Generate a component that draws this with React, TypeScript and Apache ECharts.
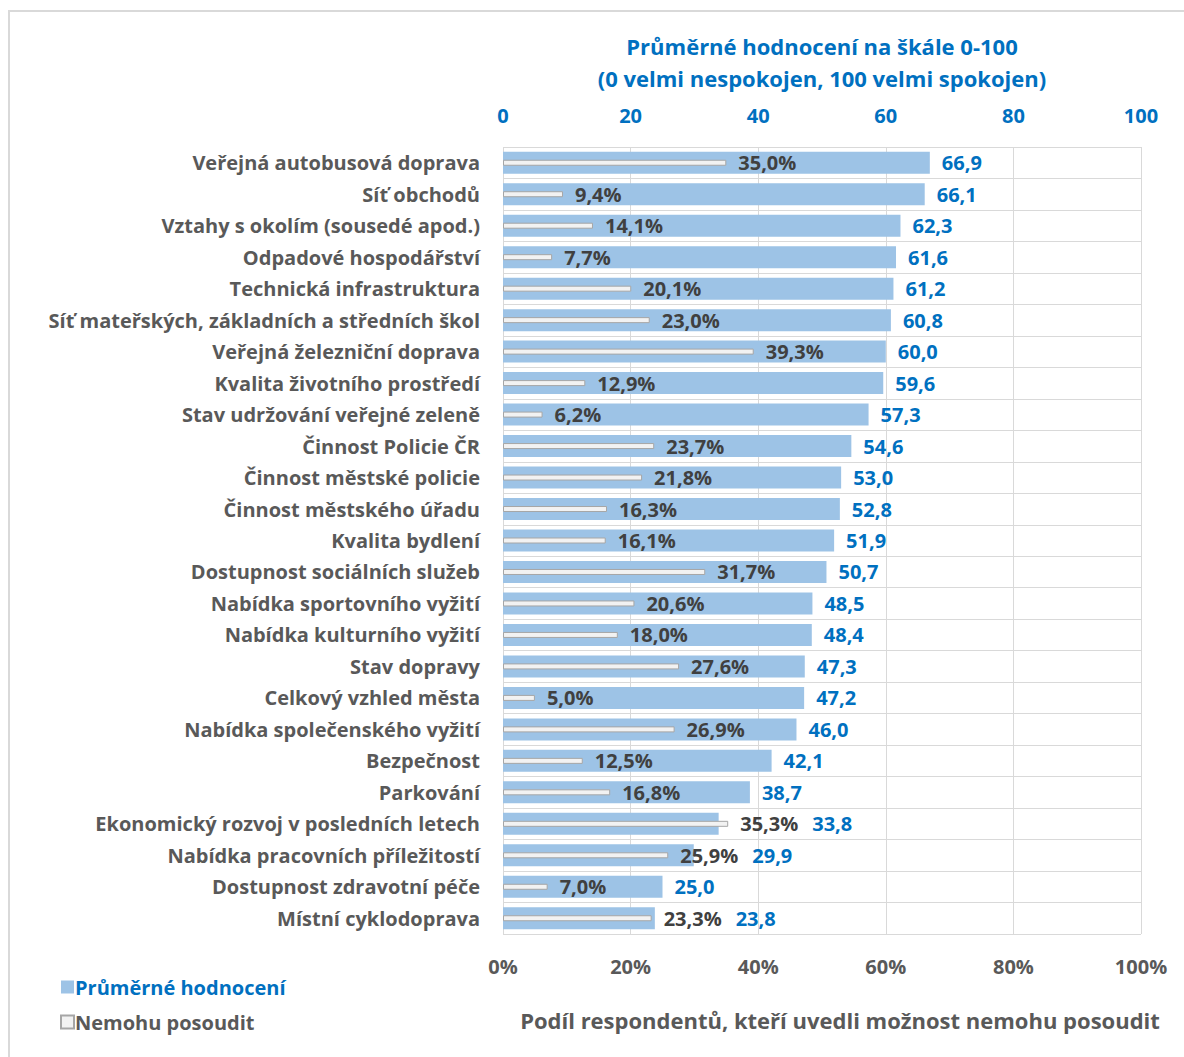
import React, { useEffect, useRef } from "react";
import * as echarts from "echarts";

const categories: string[] = [
  "Veřejná autobusová doprava",
  "Síť obchodů",
  "Vztahy s okolím (sousedé apod.)",
  "Odpadové hospodářství",
  "Technická infrastruktura",
  "Síť mateřských, základních a středních škol",
  "Veřejná železniční doprava",
  "Kvalita životního prostředí",
  "Stav udržování veřejné zeleně",
  "Činnost Policie ČR",
  "Činnost městské policie",
  "Činnost městského úřadu",
  "Kvalita bydlení",
  "Dostupnost sociálních služeb",
  "Nabídka sportovního vyžití",
  "Nabídka kulturního vyžití",
  "Stav dopravy",
  "Celkový vzhled města",
  "Nabídka společenského vyžití",
  "Bezpečnost",
  "Parkování",
  "Ekonomický rozvoj v posledních letech",
  "Nabídka pracovních příležitostí",
  "Dostupnost zdravotní péče",
  "Místní cyklodoprava",
];

const averageRating: number[] = [
  66.9, 66.1, 62.3, 61.6, 61.2, 60.8, 60.0, 59.6, 57.3, 54.6, 53.0, 52.8, 51.9,
  50.7, 48.5, 48.4, 47.3, 47.2, 46.0, 42.1, 38.7, 33.8, 29.9, 25.0, 23.8,
];

const cannotJudgePct: number[] = [
  35.0, 9.4, 14.1, 7.7, 20.1, 23.0, 39.3, 12.9, 6.2, 23.7, 21.8, 16.3, 16.1,
  31.7, 20.6, 18.0, 27.6, 5.0, 26.9, 12.5, 16.8, 35.3, 25.9, 7.0, 23.3,
];

const topTicks: number[] = [0, 20, 40, 60, 80, 100];
const bottomTicks: string[] = ["0%", "20%", "40%", "60%", "80%", "100%"];

const W = 1184;
const H = 1057;
const FONT = "Open Sans";
const FS = 20;
const TFS = 22;

const fmt1 = (v: number) => v.toFixed(1).replace(".", ",");

export default function App() {
  const ref = useRef<HTMLDivElement>(null);

  useEffect(() => {
    document.body.style.margin = "0";
    if (!ref.current) return;
    const chart = echarts.init(ref.current, undefined, { renderer: "svg" });

    const gridLeft = 503;
    const gridRight = 43;
    const gridTop = 147;
    const gridBottom = 123;
    const ppu = (W - gridLeft - gridRight) / 100;

    const canvas = document.createElement("canvas");
    const ctx = canvas.getContext("2d")!;
    ctx.font = `bold ${FS}px "${FONT}"`;

    const pctDist = 12;
    const blueDist = 12;
    const blueData = averageRating.map((v, i) => {
      const p = cannotJudgePct[i];
      const pctEnd = p * ppu + pctDist + ctx.measureText(fmt1(p) + "%").width;
      const blueEnd = v * ppu;
      const dx = Math.max(0, pctEnd + 14 - (blueEnd + blueDist));
      return { value: v, label: { offset: [dx, 0] } };
    });

    chart.setOption({
      animation: false,
      textStyle: { fontFamily: FONT },
      graphic: [
        {
          type: "rect",
          shape: { x: 9, y: 11, width: W, height: H },
          style: { fill: "none", stroke: "#d9d9d9", lineWidth: 2 },
          silent: true,
        },
      ],
      legend: {
        left: 55,
        top: 972,
        orient: "vertical",
        itemWidth: 13,
        itemHeight: 13,
        itemGap: 15,
        icon: "rect",
        textStyle: { fontFamily: FONT, fontSize: FS, fontWeight: "bold", padding: [0, 0, 0, -4] },
        data: [
          { name: "Průměrné hodnocení", textStyle: { color: "#0070C0" } },
          { name: "Nemohu posoudit", textStyle: { color: "#595959" } },
        ],
      },
      grid: { left: gridLeft, right: gridRight, top: gridTop, bottom: gridBottom },
      xAxis: [
        {
          type: "value",
          position: "top",
          min: 0,
          max: 100,
          interval: 20,
          name: "Průměrné hodnocení na škále 0-100\n(0 velmi nespokojen, 100 velmi spokojen)",
          nameLocation: "middle",
          nameGap: 53,
          nameTextStyle: {
            color: "#0070C0",
            fontFamily: FONT,
            fontSize: TFS,
            fontWeight: "bold",
            lineHeight: 32,
          },
          axisLine: { show: false },
          axisTick: { show: false },
          axisLabel: {
            color: "#0070C0",
            fontFamily: FONT,
            fontSize: FS,
            fontWeight: "bold",
            margin: 22,
            formatter: (v: number) => String(topTicks.find((t) => t === v) ?? v),
          },
          splitLine: { show: true, lineStyle: { color: "#d9d9d9", width: 1 } },
        },
        {
          type: "value",
          position: "bottom",
          min: 0,
          max: 100,
          interval: 20,
          name: "Podíl respondentů, kteří uvedli možnost nemohu posoudit",
          nameLocation: "middle",
          nameGap: 75,
          nameTextStyle: {
            color: "#595959",
            fontFamily: FONT,
            fontSize: TFS,
            fontWeight: "bold",
            padding: [0, 0, 0, 36],
          },
          axisLine: { show: false },
          axisTick: { show: false },
          axisLabel: {
            color: "#595959",
            fontFamily: FONT,
            fontSize: FS,
            fontWeight: "bold",
            margin: 22,
            formatter: (v: number) => bottomTicks[Math.round(v / 20)],
          },
          splitLine: { show: false },
        },
      ],
      yAxis: [
        {
          type: "category",
          inverse: true,
          data: categories,
          axisLine: { show: false },
          axisTick: { show: false },
          axisLabel: {
            color: "#595959",
            fontFamily: FONT,
            fontSize: FS,
            fontWeight: "bold",
            margin: 23,
          },
          splitLine: { show: true, lineStyle: { color: "#d9d9d9", width: 1 } },
        },
        {
          type: "category",
          inverse: true,
          data: categories,
          show: false,
        },
      ],
      series: [
        {
          name: "Průměrné hodnocení",
          type: "bar",
          xAxisIndex: 0,
          yAxisIndex: 0,
          barWidth: 22,
          itemStyle: { color: "#9DC3E6" },
          label: {
            show: true,
            position: "right",
            distance: blueDist,
            color: "#0070C0",
            fontFamily: FONT,
            fontSize: FS,
            fontWeight: "bold",
            formatter: (p: any) => fmt1(p.value),
          },
          data: blueData,
          z: 2,
        },
        {
          name: "Nemohu posoudit",
          type: "bar",
          xAxisIndex: 1,
          yAxisIndex: 1,
          barWidth: 6,
          itemStyle: { color: "#f2f2f2", borderColor: "#a6a6a6", borderWidth: 1 },
          label: {
            show: true,
            position: "right",
            distance: pctDist,
            color: "#404040",
            fontFamily: FONT,
            fontSize: FS,
            fontWeight: "bold",
            formatter: (p: any) => fmt1(p.value) + "%",
          },
          data: cannotJudgePct,
          z: 3,
        },
      ],
    });

    return () => chart.dispose();
  }, []);

  return <div ref={ref} style={{ width: W, height: H }} />;
}
